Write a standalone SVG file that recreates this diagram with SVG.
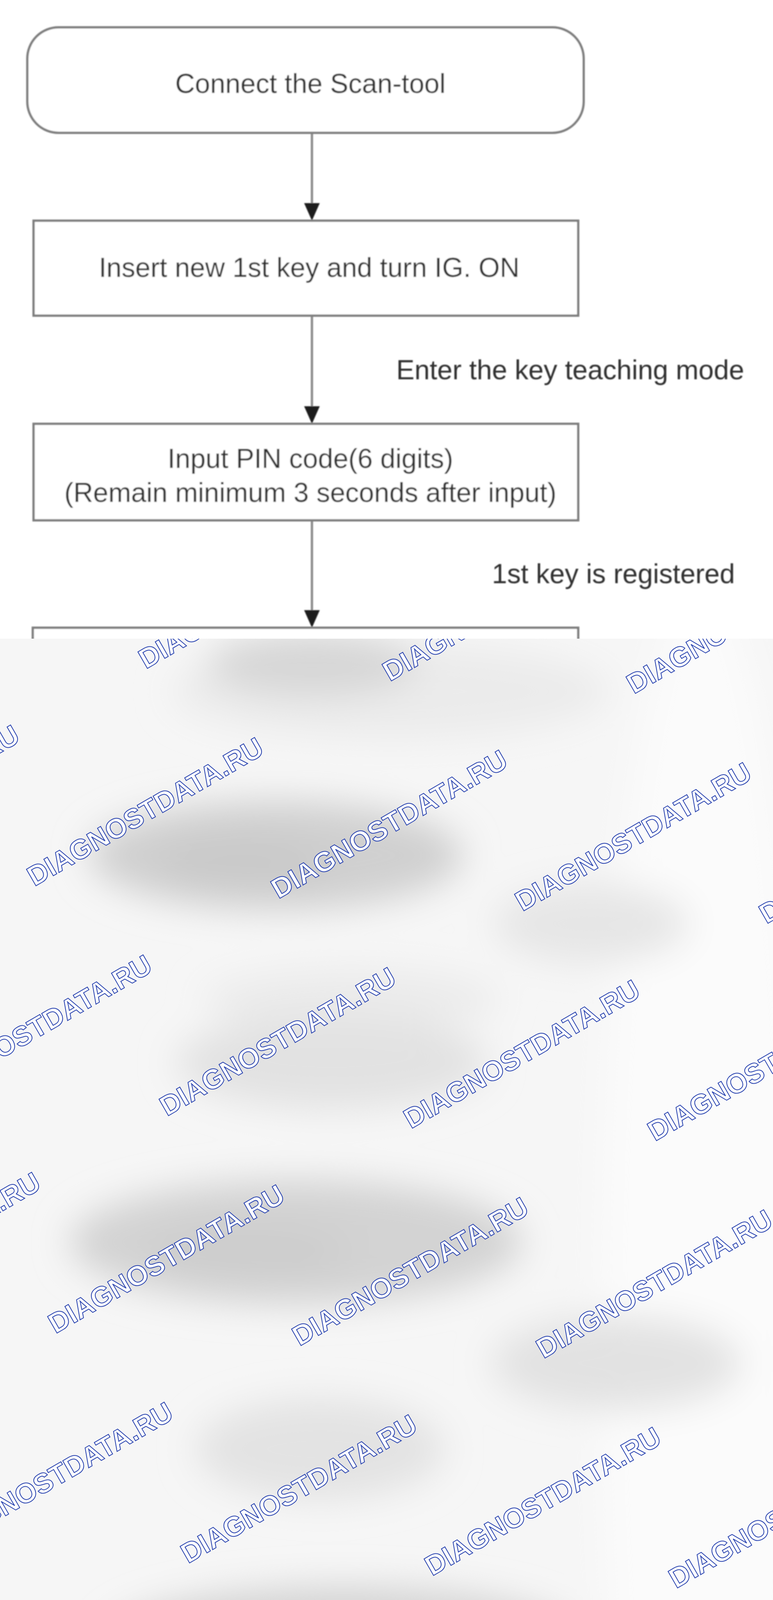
<svg xmlns="http://www.w3.org/2000/svg" width="1980" height="5450" viewBox="0 0 1980 5450">
<defs>
<style>
.box{fill:#ffffff;stroke:#7e7e7e;stroke-width:6}
.lbl{font-family:"Liberation Sans",Arial,Helvetica,sans-serif;font-size:70px;fill:#2e2e2e}
.mid{text-anchor:middle}
.shaft{stroke:#8c8c8c;stroke-width:6;fill:none}
.head{fill:#1c1c1c}
.wm{font-family:"Liberation Sans",Arial,Helvetica,sans-serif;font-weight:bold;font-size:71px;fill:#ffffff;stroke:#2a44b0;stroke-width:2}
</style>
<filter id="soft" x="0" y="0" width="1980" height="1700" filterUnits="userSpaceOnUse">
<feGaussianBlur stdDeviation="1.6"/>
</filter>
<filter id="haze" x="-200" y="1400" width="2400" height="4300" filterUnits="userSpaceOnUse">
<feGaussianBlur stdDeviation="45"/>
</filter>
<clipPath id="ov">
<rect x="0" y="1635" width="1980" height="3815"/>
</clipPath>
</defs>
<rect x="0" y="0" width="1980" height="5450" fill="#ffffff"/>
<g filter="url(#soft)">
<g id="connectors">
<line class="shaft" x1="799" y1="340" x2="799" y2="525"/>
<polygon class="head" points="779,520 819,520 799,565"/>
<line class="shaft" x1="799" y1="808" x2="799" y2="1045"/>
<polygon class="head" points="779,1040 819,1040 799,1085"/>
<line class="shaft" x1="799" y1="1332" x2="799" y2="1567"/>
<polygon class="head" points="779,1562 819,1562 799,1607"/>
<text class="lbl" x="1015" y="971">Enter the key teaching mode</text>
<text class="lbl" x="1260" y="1493">1st key is registered</text>
</g>
<g id="node-connect">
<rect class="box" x="70" y="70" width="1425" height="270" rx="80" ry="80"/>
<text class="lbl mid" x="795" y="238">Connect the Scan-tool</text>
</g>
<g id="node-insert">
<rect class="box" x="86" y="565" width="1395" height="243"/>
<text class="lbl mid" x="792" y="709">Insert new 1st key and turn IG. ON</text>
</g>
<g id="node-pin">
<rect class="box" x="86" y="1085" width="1395" height="247"/>
<text class="lbl mid" x="795" y="1198">Input PIN code(6 digits)</text>
<text class="lbl mid" x="795" y="1285">(Remain minimum 3 seconds after input)</text>
</g>
<g id="node-next">
<rect class="box" x="84" y="1607" width="1397" height="400"/>
</g>
</g>
<g id="overlay" clip-path="url(#ov)">
<rect x="0" y="1635" width="1980" height="3815" fill="#f6f6f6"/>
<g filter="url(#haze)">
<ellipse cx="1800" cy="3400" rx="260" ry="1900" fill="#fbfbfb"/>
<ellipse cx="1000" cy="1770" rx="560" ry="120" fill="#ebebeb"/>
<ellipse cx="800" cy="1700" rx="270" ry="80" fill="#d6d6d6"/>
<ellipse cx="707" cy="2190" rx="480" ry="140" fill="#d0d0d0"/>
<ellipse cx="620" cy="2205" rx="220" ry="60" fill="#c9c9c9"/>
<ellipse cx="1515" cy="2365" rx="250" ry="100" fill="#e6e6e6"/>
<ellipse cx="900" cy="2560" rx="380" ry="80" fill="#ebebeb"/>
<ellipse cx="850" cy="2720" rx="400" ry="120" fill="#e2e2e2"/>
<ellipse cx="758" cy="3180" rx="580" ry="160" fill="#d3d3d3"/>
<ellipse cx="640" cy="3200" rx="260" ry="70" fill="#cdcdcd"/>
<ellipse cx="1580" cy="3490" rx="320" ry="120" fill="#e2e2e2"/>
<ellipse cx="820" cy="3710" rx="320" ry="130" fill="#e3e3e3"/>
<ellipse cx="880" cy="4200" rx="600" ry="140" fill="#d4d4d4"/>
<ellipse cx="560" cy="4215" rx="260" ry="70" fill="#cdcdcd"/>
<ellipse cx="1580" cy="4520" rx="320" ry="120" fill="#e4e4e4"/>
<ellipse cx="820" cy="4760" rx="260" ry="110" fill="#e5e5e5"/>
<ellipse cx="1420" cy="4970" rx="230" ry="100" fill="#d9d9d9"/>
<ellipse cx="720" cy="5230" rx="300" ry="90" fill="#e4e4e4"/>
<ellipse cx="300" cy="5440" rx="420" ry="120" fill="#dde2f0"/>
</g>
<g id="watermarks">
<text class="wm" transform="translate(-251.5,1681.5) rotate(-30)">DIAGNOSTDATA.RU</text>
<text class="wm" transform="translate(373.5,1713.5) rotate(-30)">DIAGNOSTDATA.RU</text>
<text class="wm" transform="translate(998.5,1745.5) rotate(-30)">DIAGNOSTDATA.RU</text>
<text class="wm" transform="translate(1623.5,1777.5) rotate(-30)">DIAGNOSTDATA.RU</text>
<text class="wm" transform="translate(-537,2238) rotate(-30)">DIAGNOSTDATA.RU</text>
<text class="wm" transform="translate(88,2270) rotate(-30)">DIAGNOSTDATA.RU</text>
<text class="wm" transform="translate(713,2302) rotate(-30)">DIAGNOSTDATA.RU</text>
<text class="wm" transform="translate(1338,2334) rotate(-30)">DIAGNOSTDATA.RU</text>
<text class="wm" transform="translate(1963,2366) rotate(-30)">DIAGNOSTDATA.RU</text>
<text class="wm" transform="translate(-197.5,2826.5) rotate(-30)">DIAGNOSTDATA.RU</text>
<text class="wm" transform="translate(427.5,2858.5) rotate(-30)">DIAGNOSTDATA.RU</text>
<text class="wm" transform="translate(1052.5,2890.5) rotate(-30)">DIAGNOSTDATA.RU</text>
<text class="wm" transform="translate(1677.5,2922.5) rotate(-30)">DIAGNOSTDATA.RU</text>
<text class="wm" transform="translate(-483,3383) rotate(-30)">DIAGNOSTDATA.RU</text>
<text class="wm" transform="translate(142,3415) rotate(-30)">DIAGNOSTDATA.RU</text>
<text class="wm" transform="translate(767,3447) rotate(-30)">DIAGNOSTDATA.RU</text>
<text class="wm" transform="translate(1392,3479) rotate(-30)">DIAGNOSTDATA.RU</text>
<text class="wm" transform="translate(-143.5,3971.5) rotate(-30)">DIAGNOSTDATA.RU</text>
<text class="wm" transform="translate(481.5,4003.5) rotate(-30)">DIAGNOSTDATA.RU</text>
<text class="wm" transform="translate(1106.5,4035.5) rotate(-30)">DIAGNOSTDATA.RU</text>
<text class="wm" transform="translate(1731.5,4067.5) rotate(-30)">DIAGNOSTDATA.RU</text>
<text class="wm" transform="translate(-429,4528) rotate(-30)">DIAGNOSTDATA.RU</text>
<text class="wm" transform="translate(196,4560) rotate(-30)">DIAGNOSTDATA.RU</text>
<text class="wm" transform="translate(821,4592) rotate(-30)">DIAGNOSTDATA.RU</text>
<text class="wm" transform="translate(1446,4624) rotate(-30)">DIAGNOSTDATA.RU</text>
<text class="wm" transform="translate(-89.5,5116.5) rotate(-30)">DIAGNOSTDATA.RU</text>
<text class="wm" transform="translate(535.5,5148.5) rotate(-30)">DIAGNOSTDATA.RU</text>
<text class="wm" transform="translate(1160.5,5180.5) rotate(-30)">DIAGNOSTDATA.RU</text>
<text class="wm" transform="translate(1785.5,5212.5) rotate(-30)">DIAGNOSTDATA.RU</text>
<text class="wm" transform="translate(-375,5673) rotate(-30)">DIAGNOSTDATA.RU</text>
<text class="wm" transform="translate(250,5705) rotate(-30)">DIAGNOSTDATA.RU</text>
<text class="wm" transform="translate(875,5737) rotate(-30)">DIAGNOSTDATA.RU</text>
<text class="wm" transform="translate(1500,5769) rotate(-30)">DIAGNOSTDATA.RU</text>
</g>
</g>
</svg>
